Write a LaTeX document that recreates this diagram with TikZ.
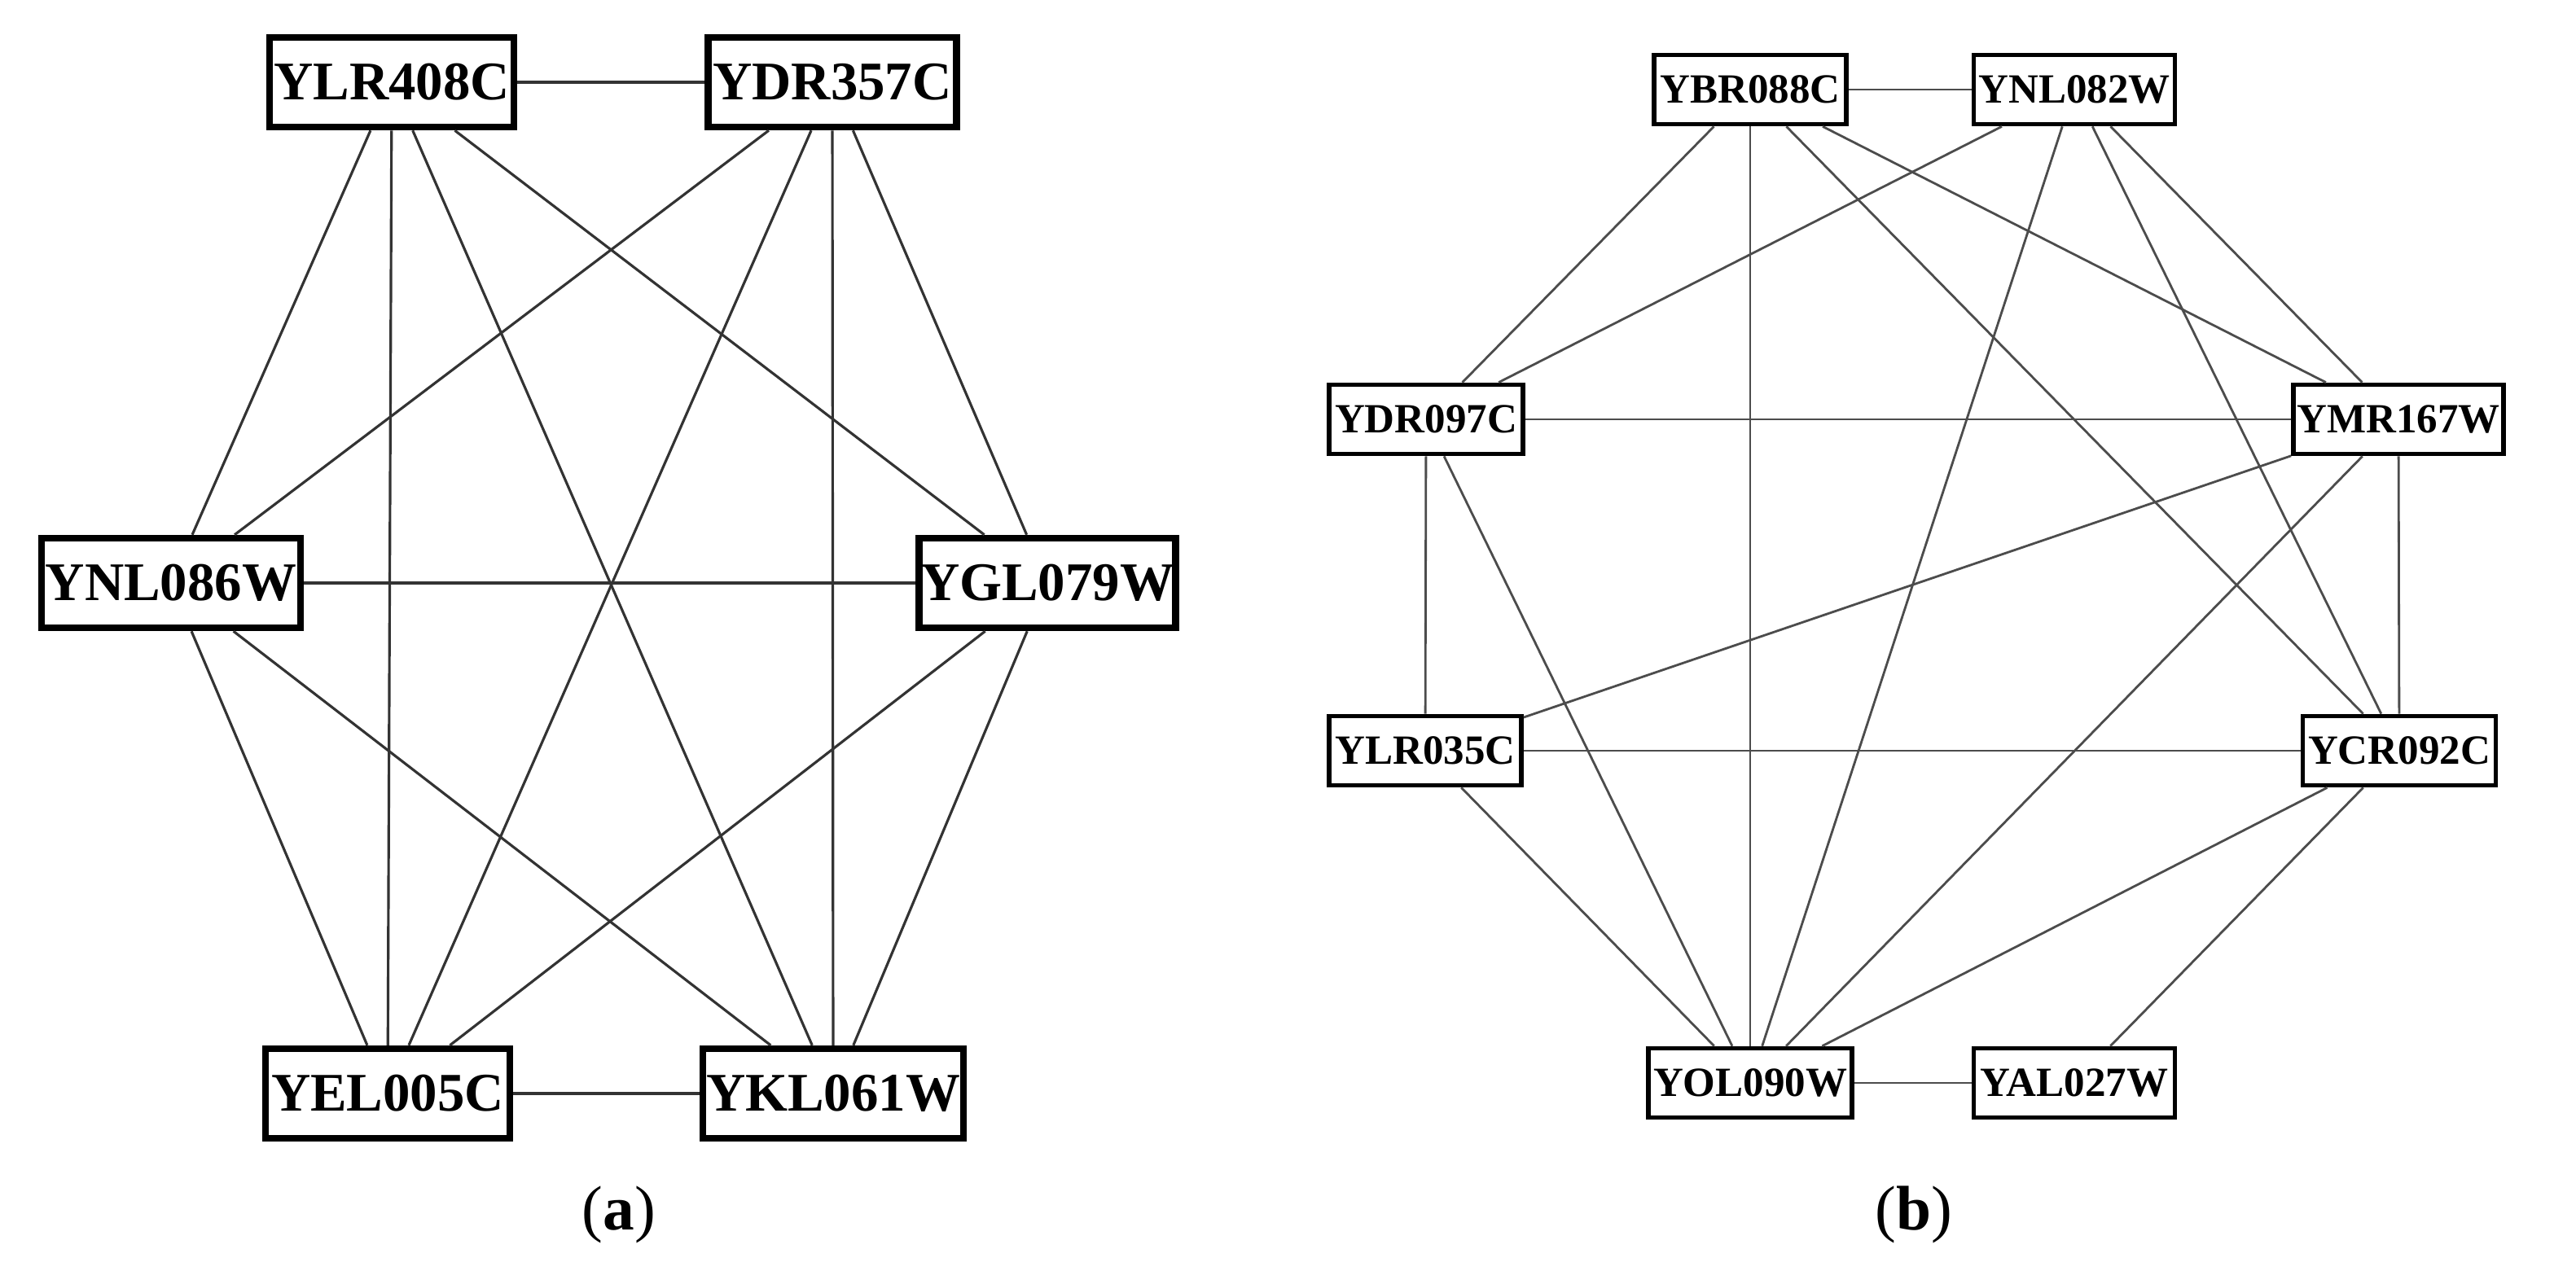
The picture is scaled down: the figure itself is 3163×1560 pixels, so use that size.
\documentclass[tikz,border=0pt]{standalone}
\usepackage{fontspec}
\setmainfont{Liberation Serif}
\begin{document}
\begin{tikzpicture}[x=0.01cm,y=-0.01cm,
  na/.style={draw,line width=2.4pt,inner sep=0pt,minimum height=1.1cm,font=\bfseries\fontsize{19}{20}\selectfont},
  nb/.style={draw,line width=1.6pt,inner sep=0pt,minimum height=0.85cm,font=\bfseries\fontsize{14.5}{16}\selectfont},
  ea/.style={draw=black!80,line width=0.9pt},
  eb/.style={draw=black!70,line width=0.8pt},
  captxt/.style={font=\fontsize{22}{24}\selectfont}]
\useasboundingbox (0,0) rectangle (3163,1560);
% (a)
\node[na,minimum width=3.0cm] (lr) at (481,101) {YLR408C};
\node[na,minimum width=3.05cm] (dr) at (1022,101) {YDR357C};
\node[na,minimum width=3.18cm] (nl) at (210,716) {YNL086W};
\node[na,minimum width=3.15cm] (gl) at (1286,716) {YGL079W};
\node[na,minimum width=3.0cm] (el) at (476,1343) {YEL005C};
\node[na,minimum width=3.2cm] (kl) at (1023,1343) {YKL061W};
\foreach \a/\b in {lr/dr,lr/nl,lr/el,lr/kl,lr/gl,dr/nl,dr/el,dr/kl,dr/gl,nl/gl,nl/el,nl/kl,gl/el,gl/kl,el/kl}
  \draw[ea] (\a) -- (\b);
\node[captxt] (ca) at (760,1492) {(\textbf{a})};
% (b)
\node[nb,minimum width=2.36cm] (br) at (2149,110) {YBR088C};
\node[nb,minimum width=2.47cm] (nw) at (2547,110) {YNL082W};
\node[nb,minimum width=2.38cm] (dc) at (1751,515) {YDR097C};
\node[nb,minimum width=2.58cm] (mr) at (2945,515) {YMR167W};
\node[nb,minimum width=2.36cm] (lc) at (1750,922) {YLR035C};
\node[nb,minimum width=2.37cm] (cr) at (2946,922) {YCR092C};
\node[nb,minimum width=2.5cm] (ol) at (2149,1330) {YOL090W};
\node[nb,minimum width=2.47cm] (al) at (2547,1330) {YAL027W};
\foreach \a/\b in {br/nw,br/dc,br/ol,br/cr,br/mr,nw/dc,nw/ol,nw/cr,nw/mr,dc/mr,dc/lc,dc/ol,mr/lc,mr/ol,mr/cr,lc/cr,lc/ol,cr/ol,cr/al,ol/al}
  \draw[eb] (\a) -- (\b);
\node[captxt] (cb) at (2350,1492) {(\textbf{b})};
\end{tikzpicture}
\end{document}
